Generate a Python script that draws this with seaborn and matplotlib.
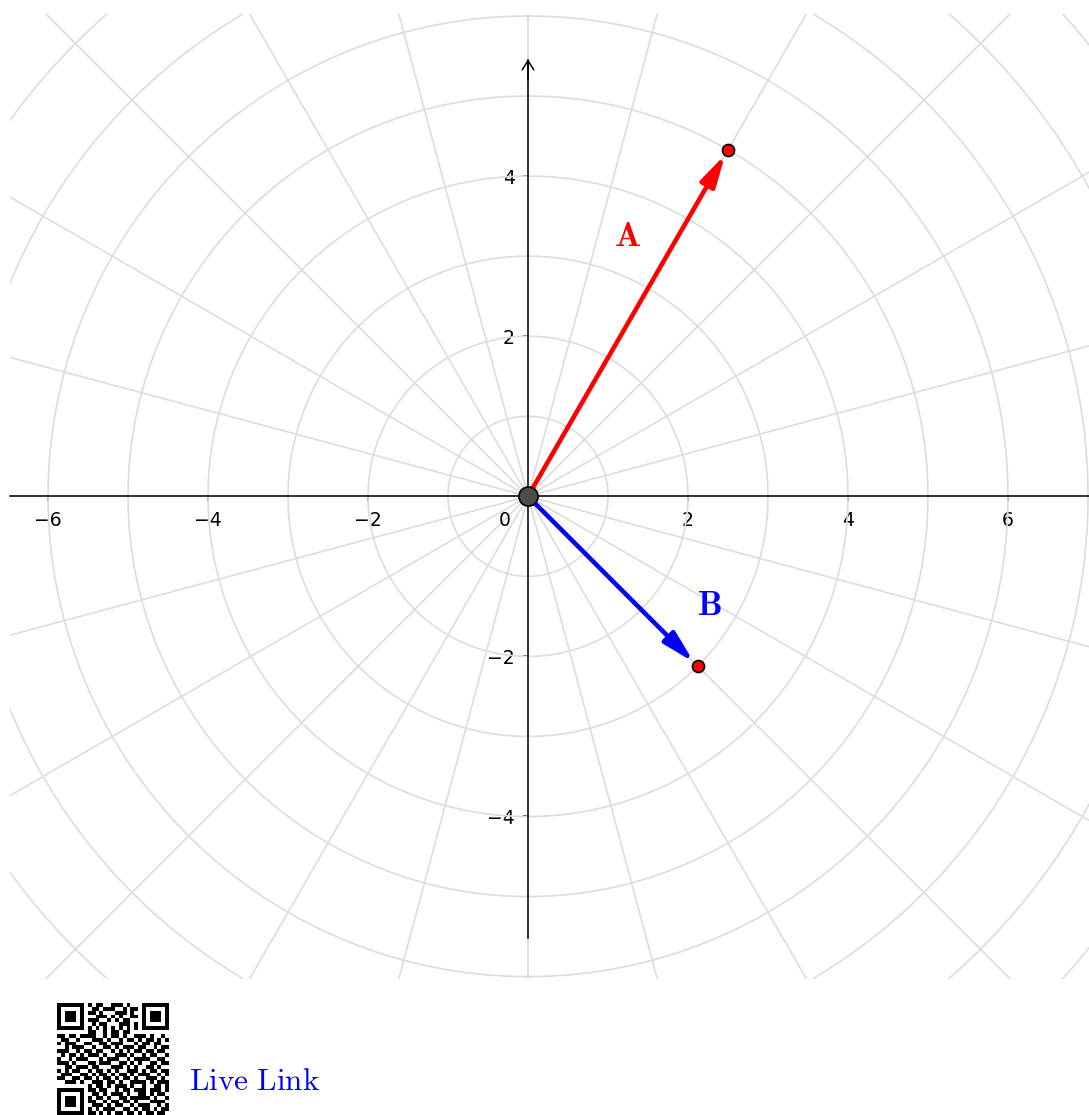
import numpy as np
import pandas as pd
import matplotlib
matplotlib.use("Agg")
import matplotlib.pyplot as plt
import seaborn as sns

# ---- data ----
vec_names = ["A", "B"]
vec_magnitudes = [5.0, 3.0]
vec_angles_deg = [60.0, -45.0]
vec_colors = ["#ff0000", "#0000ff"]
label_x = [1.25, 2.27]
label_y = [3.25, -1.36]
x_ticks = [-6, -4, -2, 2, 4, 6]
y_ticks = [-4, -2, 2, 4]
grid_radii = [1, 2, 3, 4, 5, 6, 7, 8, 9, 10]
grid_angle_step = 15

qr_rows = [
    "1111111" + "0" + "1011001110100" + "0" + "1111111",
    "1000001" + "0" + "0110111001011" + "0" + "1000001",
    "1011101" + "0" + "1101000111010" + "0" + "1011101",
    "1011101" + "0" + "0011101010011" + "0" + "1011101",
    "1011101" + "0" + "1110010101100" + "0" + "1011101",
    "1000001" + "0" + "0101100011101" + "0" + "1000001",
    "1111111" + "0" + "1010101010101" + "0" + "1111111",
    "00000000" + "1100101101100" + "00000000",
    "11011011110010110100111010010",
    "01100100011101001011010110101",
    "10111001100110111000101101100",
    "00101110010011010111011001011",
    "11100101101100101010110110110",
    "01011010111010011101001011001",
    "10010111000101110010111100110",
    "11101000110111001101010011011",
    "00110111011000111010100110100",
    "10101100101101010011101011011",
    "01110011010110101101011100101",
    "11001101101011010110100111010",
    "00111010011101101001111010111",
    "00000000" + "101101011101001001101",
    "1111111" + "0" + "110110010110111011101",
    "1000001" + "0" + "011010111010011010110",
    "1011101" + "0" + "101101001101111101001",
    "1011101" + "0" + "110010110110100011110",
    "1011101" + "0" + "011101011001011100101",
    "1000001" + "0" + "101011100110101101011",
    "1111111" + "0" + "110101011011010110110",
]

# ---- figure ----
sns.set_theme(style="white")
plt.rcParams["font.family"] = ["DejaVu Sans"]
plt.rcParams["mathtext.fontset"] = "cm"

W, H = 1089, 1115
fig = plt.figure(figsize=(W / 100, H / 100), dpi=100)
ax_l, ax_r, ax_t, ax_b = 10, 1089, 14, 979
ax = fig.add_axes([ax_l / W, 1 - ax_b / H, (ax_r - ax_l) / W, (ax_b - ax_t) / H])
ax.set_facecolor("white")

x0, x1 = -6.475, 7.0125
y0, y1 = -6.03, 6.025
ax.set_xlim(x0, x1)
ax.set_ylim(y0, y1)

# polar grid
grid_col = "#dcdcdc"
th = np.linspace(0, 2 * np.pi, 721)
for r in grid_radii:
    ax.plot(r * np.cos(th), r * np.sin(th), color=grid_col, lw=1.2, zorder=1)
for a in range(0, 360, grid_angle_step):
    t = np.deg2rad(a)
    ax.plot([0, 12 * np.cos(t)], [0, 12 * np.sin(t)], color=grid_col, lw=1.2, zorder=1)

# axes through origin
for s in ["top", "right"]:
    ax.spines[s].set_visible(False)
ax.spines["bottom"].set_position(("data", 0))
ax.spines["left"].set_position(("data", 0))
ax.spines["left"].set_bounds(-5.52, 5.45)
for s in ["bottom", "left"]:
    ax.spines[s].set_color("black")
    ax.spines[s].set_linewidth(1.1)
    ax.spines[s].set_zorder(2)
ax.set_xticks(x_ticks)
ax.set_yticks(y_ticks)
ax.set_xticklabels([f"{v}".replace("-", "\u2212") for v in x_ticks], fontsize=13.5)
ax.set_yticklabels([f"{v}".replace("-", "\u2212") for v in y_ticks], fontsize=13.5)
ax.tick_params(axis="x", pad=7)
ax.tick_params(axis="y", pad=6)
ax.tick_params(axis="both", direction="out", length=3.5, width=1.1, color="black",
               labelcolor="black", bottom=True, left=True)
ax.text(-0.29, -0.3, "0", fontsize=13.5, ha="center", va="center", color="black")

# y axis arrow head
ax.annotate("", xy=(0, 5.46), xytext=(0, 5.2),
            arrowprops=dict(arrowstyle="->,head_length=0.55,head_width=0.35",
                            lw=1.1, color="black", mutation_scale=12,
                            shrinkA=0, shrinkB=0), zorder=2)

# vectors
ends_x = [m * np.cos(np.deg2rad(a)) for m, a in zip(vec_magnitudes, vec_angles_deg)]
ends_y = [m * np.sin(np.deg2rad(a)) for m, a in zip(vec_magnitudes, vec_angles_deg)]
df = pd.DataFrame({"name": vec_names, "x": ends_x, "y": ends_y})

for ex, ey, c in zip(ends_x, ends_y, vec_colors):
    ax.annotate("", xy=(ex, ey), xytext=(0, 0),
                arrowprops=dict(arrowstyle="-|>,head_length=1.9,head_width=0.48",
                                lw=3.3, color=c, mutation_scale=10,
                                shrinkA=0, shrinkB=4),
                zorder=4)

for name, lx, ly, c in zip(vec_names, label_x, label_y, vec_colors):
    ax.text(lx, ly, r"$\mathbf{%s}$" % name, color=c, fontsize=25,
            ha="center", va="center", zorder=5)

sns.scatterplot(data=df, x="x", y="y", ax=ax, color="#ff0000", edgecolor="black",
                linewidth=1.2, s=75, zorder=6, legend=False)
sns.scatterplot(x=[0.0], y=[0.0], ax=ax, color="#4d4d4d", edgecolor="black",
                linewidth=1.2, s=190, zorder=6, legend=False)
ax.set_xlabel("")
ax.set_ylabel("")
ax.set_xlim(x0, x1)
ax.set_ylim(y0, y1)

# QR code and link
qr = np.array([[int(ch) for ch in row.ljust(29, "0")[:29]] for row in qr_rows])
qax = fig.add_axes([57 / W, 0.0, 112 / W, 112 / H])
qax.imshow(1 - qr, cmap="gray", interpolation="nearest", vmin=0, vmax=1, aspect="auto")
qax.axis("off")
fig.text(189 / W, 1 - 1081 / H, r"$\mathrm{Live\ Link}$", color="#0000ff", fontsize=22.5,
         ha="left", va="center")

fig.savefig("out.png", dpi=100, facecolor="white")
